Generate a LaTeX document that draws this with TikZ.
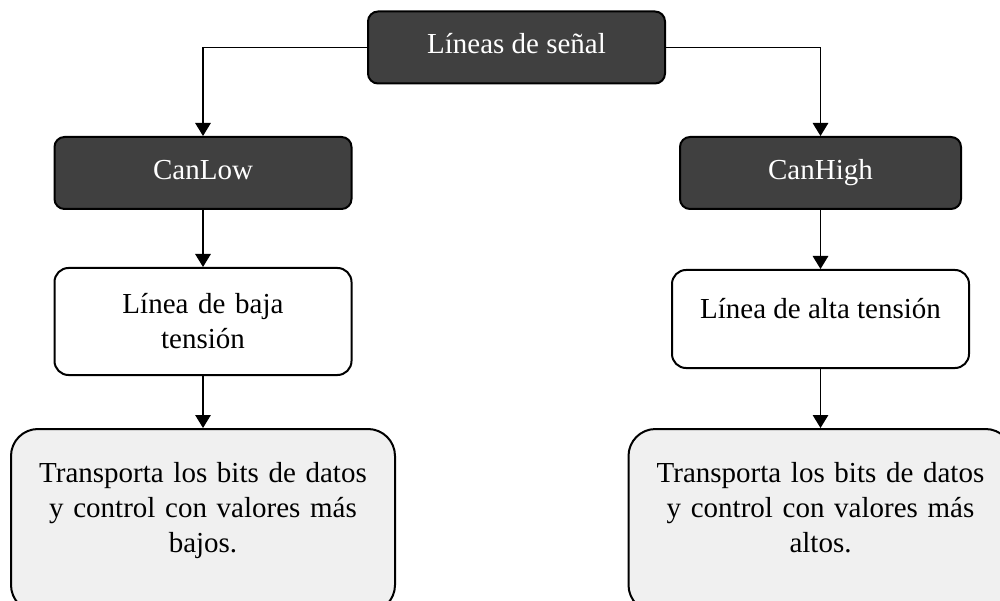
\documentclass[tikz,border=0pt]{standalone}
\usepackage{fontspec}
\setmainfont{Liberation Serif}
\usetikzlibrary{arrows.meta}

\begin{document}
\begin{tikzpicture}[x=1pt, y=-1pt,
        font=\fontsize{29pt}{35pt}\selectfont,
        darkbox/.style={draw=black, line width=2pt, fill=black!75, text=white, rounded corners=10pt, minimum height=72pt, text height=20pt, text depth=7pt},
        linebox/.style={draw=black, line width=2pt, fill=white, rounded corners=14pt, minimum width=297pt},
        infobox/.style={draw=black, line width=2pt, fill=black!6, rounded corners=27pt, minimum width=384pt, minimum height=183pt, text width=340pt, align=center, text height=20pt, text depth=97pt},
        conn/.style={line width=1.3pt, -{Triangle[width=15.5pt,length=13pt]}}]
        \clip (0,0) rectangle (1000,601);
        \node[darkbox, minimum width=297pt] (senal) at (516.5,47.5) {Líneas de señal};
        \node[darkbox, minimum width=297pt] (canlow) at (203,173) {CanLow};
        \node[darkbox, minimum width=281pt] (canhigh) at (820.5,173) {CanHigh};
        \node[linebox, minimum height=107pt, text width=270pt, align=center, text height=20pt, text depth=37pt] (baja) at (203,321.5) {Línea de baja\\ tensión};
        \node[linebox, minimum height=98pt, text height=20pt, text depth=22pt] (alta) at (820.5,319) {Línea de alta tensión};
        \node[infobox] (bajos) at (203,520.5) {Transporta los bits de datos\\ y control con valores más\\ bajos.};
        \node[infobox] (altos) at (820.5,520.5) {Transporta los bits de datos\\ y control con valores más\\ altos.};
        % conexiones
        \draw[conn] (senal.west) -| (canlow.north);
        \draw[conn] (senal.east) -| (canhigh.north);
        \draw[conn] (canlow.south) -- (baja.north);
        \draw[conn] (canhigh.south) -- (alta.north);
        \draw[conn] (baja.south) -- (bajos.north);
        \draw[conn] (alta.south) -- (altos.north);
    \end{tikzpicture}
\end{document}
